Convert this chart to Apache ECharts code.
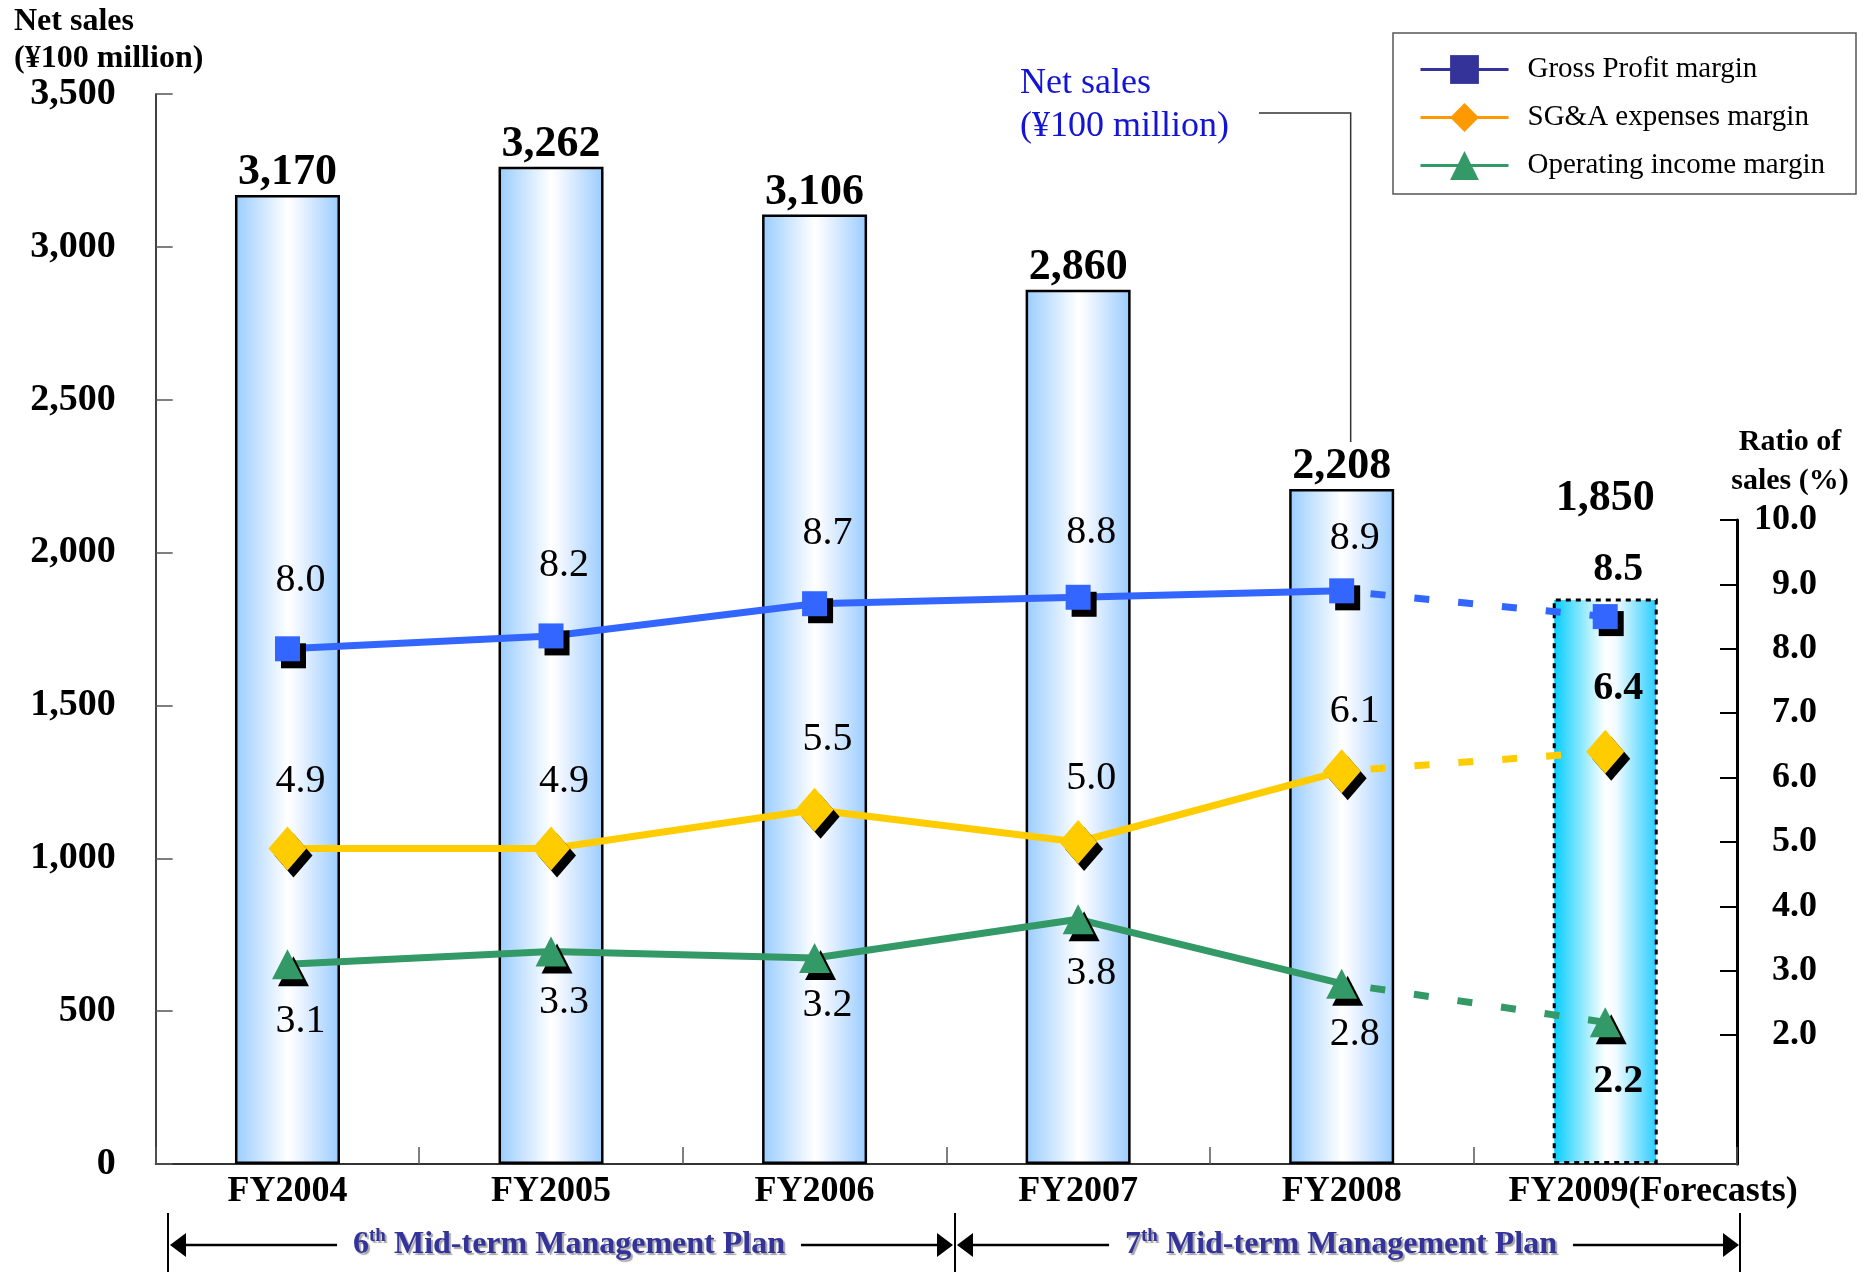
<!DOCTYPE html>
<html>
<head>
<meta charset="utf-8">
<script src="https://cdn.jsdelivr.net/npm/echarts@6/dist/echarts.min.js"></script>
<style>
  html, body { margin: 0; padding: 0; background: #ffffff; }
  #chart { width: 1865px; height: 1272px; }
</style>
</head>
<body>
<div id="chart"></div>
<script>
// ---- data ----
const years = ['FY2004', 'FY2005', 'FY2006', 'FY2007', 'FY2008', 'FY2009(Forecasts)'];
const netSales = [3170, 3262, 3106, 2860, 2208, 1850];            // ¥100 million
const grossProfitMargin = [8.0, 8.2, 8.7, 8.8, 8.9, 8.5];          // % of sales
const sgaMargin = [4.9, 4.9, 5.5, 5.0, 6.1, 6.4];                  // % of sales
const operatingMargin = [3.1, 3.3, 3.2, 3.8, 2.8, 2.2];            // % of sales
const salesTicks = [0, 500, 1000, 1500, 2000, 2500, 3000, 3500];
const ratioTicks = [2, 3, 4, 5, 6, 7, 8, 9, 10];
const forecastIndex = 5;

// ---- label spacing (px between marker and its value text) ----
const gpLabelGap = [36, 38, 38, 32, 20, 14];
const sgaLabelGap = [25, 25, 28, 22, 18, 21];
const oiLabelGap = [22, 16, 13, 19, 16, 24];

const SERIF = 'Liberation Serif';

const chart = echarts.init(document.getElementById('chart'), null, { renderer: 'canvas' });

const barFill = {
  type: 'linear', x: 0, y: 0, x2: 1, y2: 0,
  colorStops: [
    { offset: 0, color: '#99CCFF' },
    { offset: 0.5, color: '#FFFFFF' },
    { offset: 0.58, color: '#F4F8FF' },
    { offset: 1, color: '#99CCFF' }
  ]
};
const forecastFill = {
  type: 'linear', x: 0, y: 0, x2: 1, y2: 0,
  colorStops: [
    { offset: 0, color: '#00CCFF' },
    { offset: 0.5, color: '#FFFFFF' },
    { offset: 0.6, color: '#F2FBFF' },
    { offset: 1, color: '#22CCFF' }
  ]
};

// Builds the solid (results) and dashed (forecast) parts of one margin line
function marginSeries(name, values, gaps, look) {
  const base = {
    name: name,
    type: 'line',
    xAxisIndex: 1,
    yAxisIndex: 1,
    symbol: look.symbol,
    symbolSize: look.size,
    z: 5,
    itemStyle: {
      color: look.color,
      shadowColor: '#000000',
      shadowBlur: 0,
      shadowOffsetX: 6,
      shadowOffsetY: 7
    },
    label: {
      show: true,
      position: look.labelPos,
      offset: [13, 0],
      color: '#000',
      fontFamily: SERIF,
      fontSize: 40,
      lineHeight: 40,
      formatter: p => Number(p.value).toFixed(1)
    }
  };
  const actual = Object.assign({}, base, {
    lineStyle: { color: look.color, width: 7 },
    data: values.map((v, i) => i < forecastIndex
      ? { value: v, label: { distance: gaps[i] } }
      : '-')
  });
  const forecast = Object.assign({}, base, {
    z: 4,
    lineStyle: { color: look.color, width: 7, type: [15, 29], dashOffset: 15 },
    data: values.map((v, i) => {
      if (i === forecastIndex - 1) return { value: v, symbol: 'none', label: { show: false } };
      if (i === forecastIndex) return { value: v, label: { distance: gaps[i], fontWeight: 'bold' } };
      return '-';
    })
  });
  return [actual, forecast];
}

const GP = 'Gross Profit margin';
const SGA = 'SG&A expenses margin';
const OI = 'Operating income margin';

const option = {
  animation: false,
  backgroundColor: '#ffffff',
  textStyle: { fontFamily: SERIF },
  grid: [
    { left: 155.7, right: 128, top: 94, bottom: 108 },
    { left: 155.7, right: 128, top: 520, bottom: 108 }
  ],
  legend: {
    orient: 'vertical',
    left: 1414,
    top: 50,
    itemWidth: 88,
    itemHeight: 36,
    itemGap: 19,
    selectedMode: false,
    textStyle: { fontFamily: SERIF, fontSize: 29, color: '#000', padding: [0, 0, 0, 14] },
    data: [
      { name: GP, itemStyle: { color: '#333399' }, lineStyle: { color: '#333399', width: 3 } },
      { name: SGA, itemStyle: { color: '#FF9900' }, lineStyle: { color: '#FF9900', width: 3 } },
      { name: OI, itemStyle: { color: '#339966' }, lineStyle: { color: '#339966', width: 3 } }
    ]
  },
  xAxis: [
    {
      type: 'category',
      gridIndex: 0,
      data: years,
      boundaryGap: true,
      axisLine: { show: true, lineStyle: { color: '#333', width: 2 } },
      axisTick: { show: true, inside: true, length: 17, interval: 0, lineStyle: { color: '#555', width: 1.5 } },
      axisLabel: {
        interval: 0,
        margin: 10,
        color: '#000',
        fontFamily: SERIF,
        fontSize: 36,
        fontWeight: 'bold',
        lineHeight: 36,
        formatter: (v, i) => i === forecastIndex ? '{fc|' + v + '}' : v,
        rich: {
          fc: {
            fontFamily: SERIF, fontSize: 36, fontWeight: 'bold', color: '#000',
            lineHeight: 36, padding: [0, 0, 0, 96]
          }
        }
      },
      splitLine: { show: false }
    },
    {
      type: 'category',
      gridIndex: 1,
      data: years,
      boundaryGap: true,
      show: false
    }
  ],
  yAxis: [
    {
      type: 'value',
      gridIndex: 0,
      min: salesTicks[0],
      max: salesTicks[salesTicks.length - 1],
      interval: 500,
      axisLine: { show: true, lineStyle: { color: '#000', width: 1.5 } },
      axisTick: { show: true, inside: true, length: 17, lineStyle: { color: '#555', width: 1.5 } },
      axisLabel: {
        margin: 40,
        color: '#000',
        fontFamily: SERIF,
        fontSize: 38,
        fontWeight: 'bold',
        lineHeight: 38,
        padding: [6, 0, 0, 0],
        formatter: v => v.toLocaleString('en-US')
      },
      splitLine: { show: false }
    },
    {
      type: 'value',
      gridIndex: 1,
      position: 'right',
      min: 0,
      max: 10,
      interval: 1,
      axisLine: { show: true, lineStyle: { color: '#000', width: 3 } },
      axisTick: {
        show: true, inside: true, length: 17,
        customValues: ratioTicks,
        lineStyle: { color: '#000', width: 2 }
      },
      axisLabel: {
        customValues: ratioTicks,
        margin: 80,
        align: 'right',
        color: '#000',
        fontFamily: SERIF,
        fontSize: 36,
        fontWeight: 'bold',
        formatter: v => (v >= 2 ? v.toFixed(1) : '')
      },
      splitLine: { show: false }
    }
  ],
  series: [
    {
      name: 'Net sales',
      type: 'bar',
      xAxisIndex: 0,
      yAxisIndex: 0,
      barWidth: 105,
      z: 2,
      itemStyle: { color: barFill, borderColor: '#000', borderWidth: 2.5 },
      label: {
        show: true,
        position: 'top',
        distance: 0,
        color: '#000',
        fontFamily: SERIF,
        fontSize: 44,
        fontWeight: 'bold',
        lineHeight: 44,
        formatter: p => Number(p.value).toLocaleString('en-US')
      },
      data: netSales.map((v, i) => i === forecastIndex
        ? {
            value: v,
            itemStyle: { color: forecastFill, borderColor: '#000', borderWidth: 3, borderType: [5, 5] },
            label: { distance: 78 }
          }
        : v)
    },
    ...marginSeries(GP, grossProfitMargin, gpLabelGap,
      { symbol: 'rect', size: 25, color: '#3366FF', labelPos: 'top' }),
    ...marginSeries(SGA, sgaMargin, sgaLabelGap,
      { symbol: 'diamond', size: [38, 44], color: '#FFCC00', labelPos: 'top' }),
    ...marginSeries(OI, operatingMargin, oiLabelGap,
      { symbol: 'triangle', size: [31, 30], color: '#339966', labelPos: 'bottom' })
  ]
};

chart.setOption(option);

// ---- titles, call-out and management-plan band ----
const fy2008Top = chart.convertToPixel({ xAxisIndex: 0, yAxisIndex: 0 }, [4, netSales[4]]);
const planY = 1245;
const planColor = '#333399';

function arrowHead(tipX, dir) {
  return {
    type: 'polygon',
    shape: { points: [[tipX, planY], [tipX - dir * 16, planY - 12], [tipX - dir * 16, planY + 12]] },
    style: { fill: '#000' }
  };
}
function planLabel(cx, num) {
  return {
    type: 'text',
    x: cx,
    y: planY,
    z: 10,
    style: {
      text: '{n|' + num + '}{s|th}{n| Mid-term Management Plan}',
      align: 'center',
      verticalAlign: 'middle',
      backgroundColor: '#ffffff',
      padding: [0, 16],
      textShadowColor: 'rgba(0,0,0,0.35)',
      textShadowOffsetX: 2,
      textShadowOffsetY: 2,
      textShadowBlur: 1,
      rich: {
        n: { fontFamily: SERIF, fontSize: 32, fontWeight: 'bold', fill: planColor, color: planColor, lineHeight: 36 },
        s: { fontFamily: SERIF, fontSize: 19, fontWeight: 'bold', fill: planColor, color: planColor, lineHeight: 20, verticalAlign: 'top' }
      }
    }
  };
}

chart.setOption({
  graphic: [
    {
      type: 'text', x: 14, y: 3,
      style: {
        text: 'Net sales\n(¥100 million)',
        fontFamily: SERIF, fontSize: 32, fontWeight: 'bold', lineHeight: 37,
        fill: '#000', align: 'left', verticalAlign: 'top'
      }
    },
    {
      type: 'text', x: 1790, y: 423,
      style: {
        text: 'Ratio of\nsales (%)',
        fontFamily: SERIF, fontSize: 30, fontWeight: 'bold', lineHeight: 39,
        fill: '#000', align: 'center', verticalAlign: 'top'
      }
    },
    {
      type: 'text', x: 1020, y: 62,
      style: {
        text: 'Net sales\n(¥100 million)',
        fontFamily: SERIF, fontSize: 36, lineHeight: 43,
        fill: '#1414D4', align: 'left', verticalAlign: 'top'
      }
    },
    {
      type: 'polyline',
      shape: { points: [[1259, 113], [fy2008Top[0] + 9, 113], [fy2008Top[0] + 9, fy2008Top[1] - 47]] },
      style: { stroke: '#333', lineWidth: 1.5, fill: null }
    },
    {
      type: 'rect',
      shape: { x: 1393, y: 33, width: 463, height: 161 },
      style: { stroke: '#555', lineWidth: 1.5, fill: null }
    },
    // management plan band
    { type: 'line', shape: { x1: 168, y1: 1213, x2: 168, y2: 1272 }, style: { stroke: '#000', lineWidth: 2 } },
    { type: 'line', shape: { x1: 955, y1: 1213, x2: 955, y2: 1272 }, style: { stroke: '#000', lineWidth: 2 } },
    { type: 'line', shape: { x1: 1740, y1: 1213, x2: 1740, y2: 1272 }, style: { stroke: '#000', lineWidth: 2 } },
    { type: 'line', shape: { x1: 172, y1: planY, x2: 950, y2: planY }, style: { stroke: '#000', lineWidth: 2.5 } },
    { type: 'line', shape: { x1: 960, y1: planY, x2: 1737, y2: planY }, style: { stroke: '#000', lineWidth: 2.5 } },
    arrowHead(170, -1),
    arrowHead(953, 1),
    arrowHead(957, -1),
    arrowHead(1739, 1),
    planLabel(569, '6'),
    planLabel(1341, '7')
  ]
});
</script>
</body>
</html>
